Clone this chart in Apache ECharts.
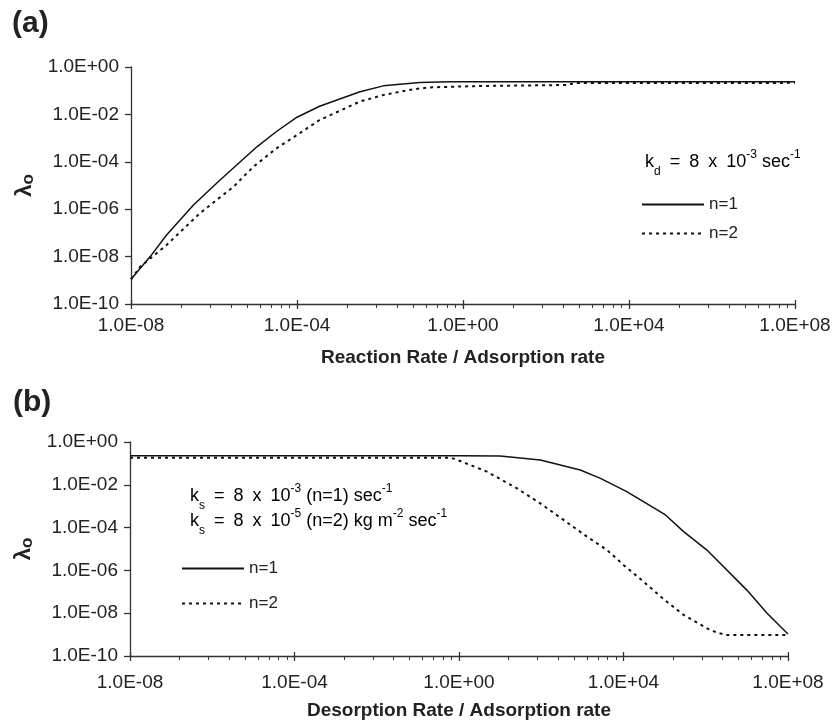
<!DOCTYPE html>
<html>
<head>
<meta charset="utf-8">
<script src="https://cdn.jsdelivr.net/npm/echarts@6/dist/echarts.min.js"></script>
<style>
    html, body { margin: 0; padding: 0; background: #fff; }
    #chart { width: 835px; height: 722px; }
</style>
</head>
<body>
<div id="chart"></div>
<script>
// (a) lambda_o vs reaction rate / adsorption rate
const rateA = [1e-8, 2.9e-8, 7.2e-8, 3.2e-7, 1.4e-6, 1.1e-5, 3.2e-5, 1e-4, 3.5e-4, 3.3e-3, 1.2e-2, 9.1e-2, 0.5, 1, 1e4, 1e8];
const lamA1 = [1.1e-9, 1e-8, 8.1e-8, 1.5e-6, 1.7e-5, 4.4e-4, 1.9e-3, 7.6e-3, 2.2e-2, 9.1e-2, 0.16, 0.22, 0.24, 0.24, 0.24, 0.24];
const rateA2 = [1e-8, 1.66e-8, 7.2e-8, 4.6e-7, 2.95e-6, 8.9e-6, 3.2e-5, 1e-4, 3.5e-4, 3.3e-3, 1.2e-2, 6.3e-2, 0.16, 2.6, 316, 500, 1e4, 1e8];
const lamA2 = [1.1e-9, 3.7e-9, 3.1e-8, 6.8e-7, 8.9e-6, 6.2e-5, 3.7e-4, 1.35e-3, 5.8e-3, 3.5e-2, 6.6e-2, 0.115, 0.138, 0.158, 0.174, 0.209, 0.212, 0.214];

// (b) lambda_o vs desorption rate / adsorption rate
const rateB1 = [1e-8, 1e-4, 1, 10, 95, 890, 2750, 1.2e4, 1.05e5, 2.9e5, 1.07e6, 1e7, 3.1e7, 1e8];
const lamB1 = [0.23, 0.23, 0.228, 0.224, 0.145, 0.049, 0.02, 4.8e-3, 3.9e-4, 6.5e-5, 8.9e-6, 1.2e-7, 1e-8, 1.07e-9];
const rateB2 = [1e-8, 1e-4, 0.62, 1.07, 4.8, 25.7, 95, 347, 1290, 4000, 1e4, 3.1e4, 9.5e4, 2.9e5, 1.07e6, 1.86e6, 3.2e6, 1e7, 1e8];
const lamB2 = [0.186, 0.186, 0.186, 0.129, 0.041, 6.8e-3, 1.35e-3, 2.3e-4, 3.8e-5, 8.9e-6, 1.8e-6, 2.95e-7, 4.5e-8, 8.3e-9, 1.95e-9, 1.23e-9, 9.5e-10, 9.5e-10, 9.5e-10];

const seriesNames = ['n=1', 'n=2'];
const xNames = ['Reaction Rate / Adsorption rate', 'Desorption Rate / Adsorption rate'];

const font = 'Liberation Sans, Arial, sans-serif';
const ink = '#222';
const axisInk = '#333';

const zip = (xs, ys) => xs.map((x, i) => [x, ys[i]]);

// 1.0E-08 style labels
const sciLabel = (v) => {
    const e = Math.round(Math.log10(v));
    const m = v / Math.pow(10, e);
    const s = e < 0 ? '-' : '+';
    return m.toFixed(1) + 'E' + s + String(Math.abs(e)).padStart(2, '0');
};

const myChart = echarts.init(document.getElementById('chart'), null, { renderer: 'canvas' });

const xAxisOf = (gridIndex, nameGap, labelMargin) => ({
    type: 'log',
    gridIndex,
    position: 'bottom',
    logBase: 10000,
    min: 1e-8,
    max: 1e8,
    name: xNames[gridIndex],
    nameLocation: 'middle',
    nameGap,
    nameTextStyle: { fontFamily: font, fontSize: 19, fontWeight: 'bold', color: ink },
    axisLine: { lineStyle: { color: axisInk, width: 1.3 } },
    axisTick: { show: true, inside: true, length: 4, lineStyle: { color: axisInk, width: 1.3 } },
    minorTick: { show: false },
    axisLabel: { fontFamily: font, fontSize: 19, color: ink, margin: labelMargin, formatter: sciLabel },
    splitLine: { show: false }
});

// helper axis: one decade per major step of the main axis, gives the excel-like minor ticks
const tickAxisOf = (gridIndex) => ({
    type: 'log',
    gridIndex,
    position: 'bottom',
    logBase: 10,
    min: 0.01,
    max: 100,
    axisLine: { show: false },
    axisLabel: { show: false },
    axisTick: { show: true, inside: false, length: 5, lineStyle: { color: axisInk, width: 1.3 } },
    minorTick: { show: true, splitNumber: 9, length: 4, lineStyle: { color: axisInk, width: 1 } },
    splitLine: { show: false },
    minorSplitLine: { show: false }
});

const yAxisOf = (gridIndex) => ({
    type: 'log',
    gridIndex,
    logBase: 100,
    min: 1e-10,
    max: 1,
    name: '{l|λ}{sub|o}',
    nameLocation: 'middle',
    nameRotate: 90,
    nameGap: 94,
    nameTextStyle: {
        rich: {
            l: { fontFamily: font, fontSize: 22, fontWeight: 'bold', color: ink },
            sub: { fontFamily: font, fontSize: 17, fontWeight: 'bold', color: ink, verticalAlign: 'bottom', padding: [6, 0, 0, 0] }
        }
    },
    axisLine: { lineStyle: { color: axisInk, width: 1.3 } },
    axisTick: { show: true, length: 6, lineStyle: { color: axisInk, width: 1.3 } },
    axisLabel: { fontFamily: font, fontSize: 19, color: ink, margin: 12, formatter: sciLabel },
    splitLine: { show: false }
});

const lineOf = (name, data, idx, dotted) => ({
    name,
    type: 'line',
    xAxisIndex: idx,
    yAxisIndex: idx,
    data,
    symbol: 'none',
    silent: true,
    itemStyle: { color: '#111' },
    lineStyle: dotted
        ? { color: '#111', width: 2, type: [3, 4] }
        : { color: '#111', width: 1.5 }
});

const richNote = {
    n: { fontFamily: font, fontSize: 18, color: ink, lineHeight: 25 },
    sub: { fontFamily: font, fontSize: 12, color: ink, verticalAlign: 'bottom', lineHeight: 25, padding: [0, 0, -3, 0] },
    sup: { fontFamily: font, fontSize: 12, color: ink, verticalAlign: 'top', lineHeight: 25, padding: [-1, 0, 0, 0] }
};

const legendOf = (left, top, gap) => ({
    left,
    top,
    orient: 'vertical',
    data: seriesNames,
    itemWidth: 62,
    itemHeight: 14,
    itemGap: gap,
    selectedMode: false,
    itemStyle: { opacity: 0 },
    textStyle: { fontFamily: font, fontSize: 17, color: ink, lineHeight: 14 }
});

const sp = '\u2002';

const option = {
    backgroundColor: '#fff',
    animation: false,
    grid: [
        { left: 131, top: 67, width: 664, height: 237 },
        { left: 130, top: 442, width: 658, height: 214 }
    ],
    xAxis: [xAxisOf(0, 44, 12), xAxisOf(1, 45, 17), tickAxisOf(0), tickAxisOf(1)],
    yAxis: [yAxisOf(0), yAxisOf(1)],
    legend: [legendOf(636, 191, 12), legendOf(176, 555, 18)],
    graphic: [
        { type: 'text', left: 12, top: 9, style: { text: '(a)', font: 'bold 30px ' + font, fill: ink } },
        { type: 'text', left: 13, top: 388, style: { text: '(b)', font: 'bold 30px ' + font, fill: ink } },
        {
            type: 'text', left: 645, top: 149,
            style: { text: '{n|k}{sub|d}{n|' + sp + '=' + sp + '8' + sp + 'x' + sp + '10}{sup|-3}{n| sec}{sup|-1}', rich: richNote }
        },
        {
            type: 'text', left: 190, top: 483,
            style: {
                text: '{n|k}{sub|s}{n|' + sp + '=' + sp + '8' + sp + 'x' + sp + '10}{sup|-3}{n| (n=1) sec}{sup|-1}\n' +
                      '{n|k}{sub|s}{n|' + sp + '=' + sp + '8' + sp + 'x' + sp + '10}{sup|-5}{n| (n=2) kg m}{sup|-2}{n| sec}{sup|-1}',
                rich: richNote
            }
        }
    ],
    series: [
        lineOf(seriesNames[0], zip(rateA, lamA1), 0, false),
        lineOf(seriesNames[1], zip(rateA2, lamA2), 0, true),
        lineOf(seriesNames[0], zip(rateB1, lamB1), 1, false),
        lineOf(seriesNames[1], zip(rateB2, lamB2), 1, true)
    ]
};

myChart.setOption(option);
</script>
</body>
</html>
